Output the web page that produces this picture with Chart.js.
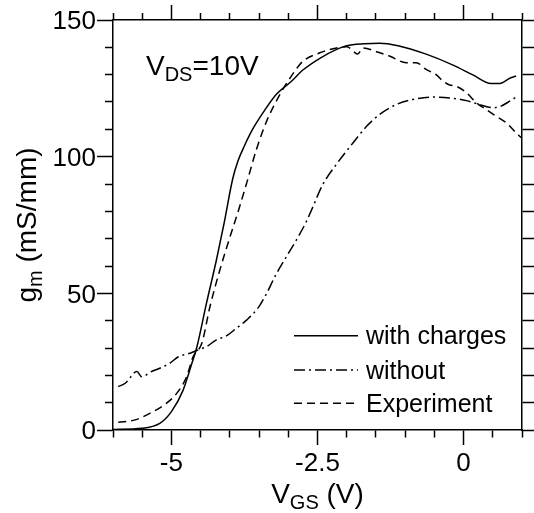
<!DOCTYPE html>
<html>
<head>
<meta charset="utf-8">
<script src="https://cdn.jsdelivr.net/npm/chart.js@4.4.1/dist/chart.umd.min.js"></script>
<style>
  html, body { margin: 0; padding: 0; background: #fff; }
</style>
</head>
<body>
<canvas id="gmChart" width="534" height="513"></canvas>
<script>
// values (V_GS in V, g_m in mS/mm)
const chargesX = [-6, -5.5, -5.2, -5.0, -4.8, -4.65, -4.57, -4.4, -4.23, -4.1, -3.95, -3.86, -3.75, -3.6, -3.4, -3.2, -2.95, -2.75, -2.46, -2.2, -2.0, -1.7, -1.44, -1.12, -0.64, -0.18, 0.16, 0.47, 0.62, 0.79, 0.9];
const chargesY = [0.2, 0.6, 2.4, 6.7, 14.6, 24.4, 29.9, 46.4, 62.2, 75.5, 92, 98.5, 104, 110.4, 117.1, 122.9, 127.5, 131.7, 136, 139, 140.6, 141.3, 141.5, 140.6, 137.5, 133.5, 129.9, 126.8, 126.8, 128.7, 129.5];

const withoutX = [-5.91, -5.79, -5.59, -5.51, -5.34, -5.2, -5.03, -4.88, -4.68, -4.54, -4.4, -4.23, -4.06, -3.89, -3.71, -3.52, -3.37, -3.23, -3.03, -2.86, -2.69, -2.6, -2.41, -2.18, -1.89, -1.66, -1.44, -1.15, -0.87, -0.52, -0.24, 0.05, 0.27, 0.5, 0.64, 0.79, 0.9];
const withoutY = [15.9, 17.1, 21.4, 19.5, 21.4, 22.6, 24.4, 26.8, 28.1, 29.3, 30.5, 33, 34.4, 37.2, 40.3, 44.6, 50, 56.1, 63.5, 69.6, 76.3, 80.6, 89.8, 97.1, 105.1, 111.1, 115.4, 119.1, 120.9, 121.8, 121.5, 120.5, 119.1, 117.9, 118.5, 120.3, 121.8];

const exptX = [-5.91, -5.62, -5.37, -5.11, -4.91, -4.74, -4.63, -4.48, -4.34, -4.17, -4.0, -3.85, -3.71, -3.54, -3.37, -3.15, -2.95, -2.75, -2.46, -2.29, -2.0, -1.81, -1.72, -1.49, -1.27, -0.98, -0.81, -0.64, -0.47, -0.35, -0.24, -0.13, 0.05, 0.22, 0.39, 0.56, 0.73, 0.9, 0.99];
const exptY = [2.8, 3.7, 6.1, 9.4, 13.4, 19.5, 26.8, 31.7, 45.2, 58.6, 70.5, 80.5, 90.5, 103, 113, 122.5, 129.4, 134.9, 138, 139.2, 140.2, 137.6, 139.8, 138.4, 136.8, 134.4, 134.4, 131.9, 130, 127.6, 126.2, 125.8, 123.4, 119.7, 117.2, 114.8, 112.4, 108.7, 106.9];

const seriesNames = ['with charges', 'without', 'Experiment'];
const xTickLabels = [-5, -2.5, 0];
const yTickLabels = [0, 50, 100, 150];

const FONT = '"Liberation Sans", Arial, sans-serif';
Chart.defaults.font.family = FONT;
Chart.defaults.color = '#000';

function pts(xs, ys) {
  return xs.map((x, i) => ({x: x, y: ys[i]}));
}
function isLabel(list, v) {
  return list.some(t => Math.abs(t - v) < 1e-6);
}

// minor ticks are drawn shorter by dashing the tick line
function tickDash(list, len, minorLen, outerFirst) {
  return function(ctx) {
    if (ctx.tick && isLabel(list, ctx.tick.value)) return [];
    return outerFirst ? [0, len - minorLen, minorLen, 60] : [minorLen, 60];
  };
}

function axis(pos, min, max, step, labels, len, minorLen, showLabels, size) {
  const outerFirst = (pos === 'top' || pos === 'left');
  return {
    type: 'linear',
    position: pos,
    min: min,
    max: max,
    border: { color: '#000', width: 1.5 },
    grid: {
      drawOnChartArea: false,
      tickLength: len,
      tickWidth: 1.5,
      tickColor: '#000',
      tickBorderDash: tickDash(labels, len, minorLen, outerFirst)
    },
    ticks: {
      display: showLabels,
      stepSize: step,
      autoSkip: false,
      maxRotation: 0,
      padding: pos === 'bottom' ? 3 : 1,
      labelOffset: pos === 'left' ? 2 : 0,
      font: { size: 26 },
      color: '#000',
      callback: v => isLabel(labels, v) ? String(v) : ''
    },
    afterFit: s => {
      if (s.isHorizontal()) s.height = size; else s.width = size;
    }
  };
}

const textPlugin = {
  id: 'texts',
  afterDraw(chart) {
    const ctx = chart.ctx;
    const a = chart.chartArea;
    ctx.save();
    ctx.fillStyle = '#000';
    ctx.textBaseline = 'alphabetic';

    function withSub(parts, x, y, align) {
      // parts: [text, sub, rest], big 28px, sub 20px
      ctx.font = '28px ' + FONT;
      const w1 = ctx.measureText(parts[0]).width;
      const w3 = ctx.measureText(parts[2]).width;
      ctx.font = '20px ' + FONT;
      const w2 = ctx.measureText(parts[1]).width;
      let x0 = align === 'center' ? x - (w1 + w2 + w3) / 2 : x;
      ctx.textAlign = 'left';
      ctx.font = '28px ' + FONT;
      ctx.fillText(parts[0], x0, y);
      ctx.font = '20px ' + FONT;
      ctx.fillText(parts[1], x0 + w1, y + 6);
      ctx.font = '28px ' + FONT;
      ctx.fillText(parts[2], x0 + w1 + w2, y);
    }

    // x axis title
    withSub(['V', 'GS', ' (V)'], (a.left + a.right) / 2, 503, 'center');

    // y axis title
    ctx.save();
    ctx.translate(36, (a.top + a.bottom) / 2);
    ctx.rotate(-Math.PI / 2);
    withSub(['g', 'm', ' (mS/mm)'], 0, 0, 'center');
    ctx.restore();

    // annotation
    withSub(['V', 'DS', '=10V'], 146, 75, 'left');

    // legend
    const rows = [335.7, 370, 403.3];
    chart.data.datasets.forEach((ds, i) => {
      const y = rows[i];
      ctx.save();
      ctx.strokeStyle = ds.borderColor;
      ctx.lineWidth = ds.borderWidth;
      ctx.setLineDash(ds.borderDash || []);
      ctx.beginPath();
      ctx.moveTo(294, y);
      ctx.lineTo(358, y);
      ctx.stroke();
      ctx.restore();
      ctx.font = '25px ' + FONT;
      ctx.textAlign = 'left';
      ctx.fillText(ds.label, 366, y + 8.5);
    });
    ctx.restore();
  }
};

const line = (label, xs, ys, dash) => ({
  label: label,
  data: pts(xs, ys),
  showLine: true,
  borderColor: '#000',
  borderWidth: 1.5,
  borderDash: dash,
  pointRadius: 0,
  cubicInterpolationMode: 'monotone',
  fill: false
});

new Chart(document.getElementById('gmChart'), {
  type: 'scatter',
  data: {
    datasets: [
      line(seriesNames[0], chargesX, chargesY, []),
      line(seriesNames[1], withoutX, withoutY, [11, 4, 2, 4]),
      line(seriesNames[2], exptX, exptY, [8, 5])
    ]
  },
  options: {
    responsive: false,
    animation: false,
    layout: { padding: 0 },
    plugins: {
      legend: { display: false },
      tooltip: { enabled: false }
    },
    scales: {
      x: axis('bottom', -6, 1, 0.5, xTickLabels, 15, 7, true, 83),
      x2: axis('top', -6, 1, 0.5, xTickLabels, 15, 7, false, 20),
      y: axis('left', 0, 150, 10, yTickLabels, 16, 8, true, 113),
      y2: axis('right', 0, 150, 10, yTickLabels, 12, 12, false, 12)
    }
  },
  plugins: [textPlugin]
});
</script>
</body>
</html>
